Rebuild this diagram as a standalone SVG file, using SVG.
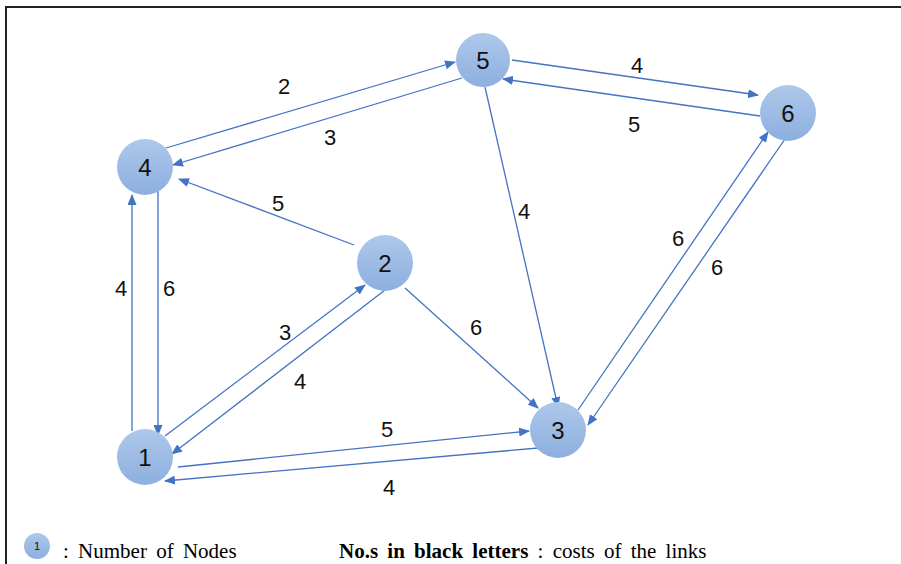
<svg xmlns="http://www.w3.org/2000/svg" width="901" height="564" viewBox="0 0 901 564">
  <style>
    .edge { stroke: #4472c4; stroke-width: 1.3; fill: none; marker-end: url(#arrow); }
    .node circle { fill: url(#ball); }
    .node text { font-family: "Liberation Sans", Arial, sans-serif; font-size: 24px; fill: #111; text-anchor: middle; }
    .cost { font-family: "Liberation Sans", Arial, sans-serif; font-size: 22px; fill: #111; text-anchor: middle; }
    .legend { font-family: "Liberation Serif", "Times New Roman", serif; font-size: 21px; fill: #000; word-spacing: 4px; }
  </style>
  <defs>
    <linearGradient id="ball" x1="0" y1="0" x2="0" y2="1">
      <stop offset="0" stop-color="#adc8ea"/>
      <stop offset="1" stop-color="#8dafdf"/>
    </linearGradient>
    <marker id="arrow" markerWidth="11" markerHeight="9" refX="10" refY="4.5" orient="auto" markerUnits="userSpaceOnUse">
      <path d="M0,0 L11,4.5 L0,9 Z" fill="#4472c4"/>
    </marker>
  </defs>

  <rect width="901" height="564" fill="#fff"/>
  <!-- frame -->
  <path d="M6,564 V7 H901" fill="none" stroke="#222" stroke-width="2"/>

  <g id="connectors">
    <line class="edge" x1="166" y1="148" x2="455" y2="62"/>
    <line class="edge" x1="462" y1="78" x2="173" y2="165"/>
    <line class="edge" x1="354" y1="245" x2="179" y2="179"/>
    <line class="edge" x1="132" y1="431" x2="132" y2="195"/>
    <line class="edge" x1="158" y1="187" x2="158" y2="435"/>
    <line class="edge" x1="165" y1="436" x2="365" y2="285"/>
    <line class="edge" x1="385" y1="290" x2="172" y2="454"/>
    <line class="edge" x1="405" y1="288" x2="538" y2="408"/>
    <line class="edge" x1="485" y1="87" x2="558" y2="407"/>
    <line class="edge" x1="178" y1="467" x2="529" y2="431"/>
    <line class="edge" x1="538" y1="448" x2="165" y2="481"/>
    <line class="edge" x1="512" y1="60" x2="758" y2="95"/>
    <line class="edge" x1="760" y1="116" x2="503" y2="79"/>
    <line class="edge" x1="578" y1="410" x2="768" y2="132"/>
    <line class="edge" x1="785" y1="139" x2="588" y2="425"/>
  </g>

  <g id="costs">
    <text class="cost" x="284" y="94">2</text>
    <text class="cost" x="330" y="145">3</text>
    <text class="cost" x="278" y="211">5</text>
    <text class="cost" x="121" y="296">4</text>
    <text class="cost" x="169" y="296">6</text>
    <text class="cost" x="285" y="340">3</text>
    <text class="cost" x="300" y="389">4</text>
    <text class="cost" x="476" y="335">6</text>
    <text class="cost" x="524" y="219">4</text>
    <text class="cost" x="387" y="437">5</text>
    <text class="cost" x="389" y="495">4</text>
    <text class="cost" x="637" y="73">4</text>
    <text class="cost" x="634" y="132">5</text>
    <text class="cost" x="678" y="246">6</text>
    <text class="cost" x="717" y="275">6</text>
  </g>

  <g id="node1" class="node"><circle cx="145" cy="457" r="28"/><text x="145" y="466">1</text></g>
  <g id="node2" class="node"><circle cx="385" cy="263" r="28"/><text x="385" y="272">2</text></g>
  <g id="node3" class="node"><circle cx="558" cy="430" r="28"/><text x="558" y="439">3</text></g>
  <g id="node4" class="node"><circle cx="145" cy="167" r="28"/><text x="145" y="176">4</text></g>
  <g id="node5" class="node"><circle cx="483" cy="60" r="27"/><text x="483" y="69">5</text></g>
  <g id="node6" class="node"><circle cx="788" cy="113" r="28"/><text x="788" y="122">6</text></g>

  <g id="legend">
    <circle cx="37" cy="546" r="13" fill="url(#ball)"/>
    <text x="37" y="550" font-family="Liberation Sans, Arial, sans-serif" font-size="11" text-anchor="middle" fill="#111">1</text>
    <text class="legend" x="63" y="558">: Number of Nodes</text>
    <text class="legend" x="339" y="558"><tspan font-weight="bold">No.s in black letters</tspan> : costs of the links</text>
  </g>
</svg>
